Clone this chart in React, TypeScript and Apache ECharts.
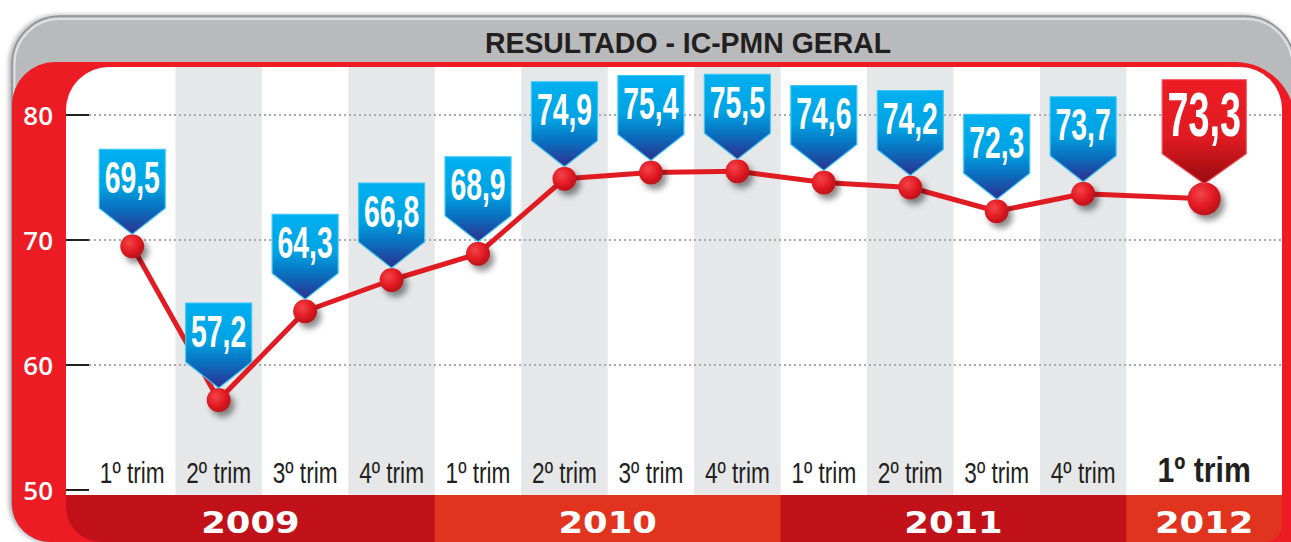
import React, { useEffect, useRef } from 'react';
import * as echarts from 'echarts';

// ---- data ----
const title = 'RESULTADO - IC-PMN GERAL';
const categories = ['1º trim', '2º trim', '3º trim', '4º trim', '1º trim', '2º trim', '3º trim', '4º trim', '1º trim', '2º trim', '3º trim', '4º trim', '1º trim'];
const values = [69.5, 57.2, 64.3, 66.8, 68.9, 74.9, 75.4, 75.5, 74.6, 74.2, 72.3, 73.7, 73.3];
const columnWidths = [1, 1, 1, 1, 1, 1, 1, 1, 1, 1, 1, 1, 1.8];
const years = ['2009', '2010', '2011', '2012'];
const yearFirstIndex = [0, 4, 8, 12];
const yearLastIndex = [3, 7, 11, 12];

// ---- layout ----
const W = 1291;
const H = 542;
const PLOT_TOP = 67;
const BAND_TOP = 495;
const WHITE_LEFT = 66;
const WHITE_RIGHT = 1282;

const colStart: number[] = [];
{
  let s = -0.5;
  for (let i = 0; i < columnWidths.length; i++) {
    colStart.push(s);
    s += columnWidths[i];
  }
  colStart.push(s);
}
const xCenters = columnWidths.map((w, i) => colStart[i] + w / 2);
const lastIdx = values.length - 1;
const fmt = (v: number) => v.toFixed(1).replace('.', ',');

const FONT = '"Liberation Sans", Arial, sans-serif';

export default function App() {
  const ref = useRef<HTMLDivElement>(null);
  useEffect(() => {
    document.body.style.margin = '0';
    const chart = echarts.init(ref.current!, undefined, { renderer: 'svg' });

    const redPoint = new echarts.graphic.RadialGradient(0.38, 0.35, 0.7, [
      { offset: 0, color: '#f3454a' },
      { offset: 0.55, color: '#e31b23' },
      { offset: 1, color: '#b4121a' },
    ]);

    const option: any = {
      animation: false,
      backgroundColor: '#ffffff',
      grid: { left: 89, right: W - WHITE_RIGHT, top: 115, bottom: H - 490, containLabel: false },
      xAxis: { type: 'value', min: colStart[0], max: colStart[colStart.length - 1], show: false },
      yAxis: {
        type: 'value',
        min: 50,
        max: 80,
        interval: 10,
        position: 'left',
        axisLine: { show: false, onZero: false },
        axisTick: { show: true, inside: false, length: 23, lineStyle: { color: '#231f20', width: 2 } },
        axisLabel: { color: '#ffffff', fontSize: 26, fontFamily: '"Open Sans", sans-serif', fontWeight: 600, margin: 36 },
        splitLine: { show: true, showMinLine: false, lineStyle: { color: '#a7a9ac', width: 2, type: [2, 3] } },
      },
      graphic: [
        {
          type: 'rect', z: -10,
          shape: { x: 12, y: 16, width: 1283, height: 526, r: [48, 50, 0, 40] },
          style: { fill: '#b9babc', stroke: '#8f9092', lineWidth: 1.5, shadowBlur: 5, shadowColor: 'rgba(0,0,0,0.35)', shadowOffsetX: -2 },
        },
        {
          type: 'rect', z: -9,
          shape: { x: 14.5, y: 19, width: 1278, height: 120, r: [45, 47, 0, 0] },
          style: { fill: 'none', stroke: 'rgba(255,255,255,0.55)', lineWidth: 2 },
        },
        {
          type: 'rect', z: -8,
          shape: { x: 12, y: 62, width: 1283, height: 480, r: [43, 60, 0, 38] },
          style: { fill: '#ed1c24' },
        },
        {
          type: 'rect', z: -7,
          shape: { x: WHITE_LEFT, y: PLOT_TOP, width: WHITE_RIGHT - WHITE_LEFT, height: BAND_TOP - PLOT_TOP, r: [43, 42, 0, 0] },
          style: { fill: '#ffffff' },
        },
        {
          type: 'text', z: -6, x: 688, y: 42.5, scaleX: 0.98,
          style: { text: title, fill: '#231f20', font: `bold 29px ${FONT}`, align: 'center', verticalAlign: 'middle', textAlign: 'center', textVerticalAlign: 'middle' },
        },
      ],
      series: [
        {
          name: 'columns',
          type: 'custom',
          z: -1,
          silent: true,
          data: xCenters.map((x) => [x, 50]),
          renderItem: (params: any, api: any) => {
            const i = params.dataIndex;
            const x0 = api.coord([colStart[i], 80])[0];
            const x1 = api.coord([colStart[i] + columnWidths[i], 80])[0];
            const yBase = api.coord([0, 50])[1];
            const isLast = i === lastIdx;
            const children: any[] = [];
            if (i % 2 === 1) {
              children.push({
                type: 'rect',
                shape: { x: x0, y: PLOT_TOP, width: x1 - x0, height: BAND_TOP - PLOT_TOP },
                style: { fill: '#e6e7e8' },
              });
            }
            children.push({
              type: 'text',
              x: (x0 + x1) / 2,
              y: yBase - (isLast ? 20 : 17.5),
              scaleX: isLast ? 0.84 : 0.78,
              style: {
                text: categories[i],
                fill: '#231f20',
                font: isLast ? `bold 36px ${FONT}` : `29px ${FONT}`,
                align: 'center', verticalAlign: 'middle', textAlign: 'center', textVerticalAlign: 'middle',
              },
            });
            return { type: 'group', children };
          },
        },
        {
          name: 'years',
          type: 'custom',
          z: -1,
          silent: true,
          data: years.map((_, k) => [xCenters[yearFirstIndex[k]], 50]),
          renderItem: (params: any, api: any) => {
            const k = params.dataIndex;
            const f = yearFirstIndex[k];
            const l = yearLastIndex[k];
            const x0 = k === 0 ? WHITE_LEFT : api.coord([colStart[f], 50])[0];
            const x1 = k === years.length - 1 ? WHITE_RIGHT : api.coord([colStart[l] + columnWidths[l], 50])[0];
            const r = k === 0 ? [0, 0, 0, 35] : k === years.length - 1 ? [0, 0, 18, 0] : 0;
            return {
              type: 'group',
              children: [
                {
                  type: 'rect',
                  shape: { x: x0, y: BAND_TOP, width: x1 - x0, height: H - BAND_TOP, r },
                  style: { fill: k % 2 === 0 ? '#c1121a' : '#e1341f' },
                },
                {
                  type: 'text',
                  x: (x0 + x1) / 2,
                  y: 522,
                  scaleX: 1.14,
                  style: {
                    text: years[k],
                    fill: '#ffffff',
                    font: 'bold 31px "DejaVu Sans", sans-serif',
                    align: 'center', verticalAlign: 'middle', textAlign: 'center', textVerticalAlign: 'middle',
                  },
                },
              ],
            };
          },
        },
        {
          name: 'IC-PMN',
          type: 'line',
          z: 3,
          clip: false,
          data: values.map((v, i) => [xCenters[i], v]),
          symbol: 'circle',
          symbolSize: (_v: any, p: any) => (p.dataIndex === lastIdx ? 33 : 24),
          lineStyle: { color: '#e01b22', width: 5 },
          itemStyle: {
            color: redPoint,
            shadowBlur: 6,
            shadowColor: 'rgba(0,0,0,0.45)',
            shadowOffsetX: 4,
            shadowOffsetY: 5,
          },
        },
        {
          name: 'labels',
          type: 'custom',
          z: 5,
          silent: true,
          data: values.map((v, i) => [xCenters[i], v]),
          renderItem: (params: any, api: any) => {
            const i = params.dataIndex;
            const [px, py] = api.coord([xCenters[i], values[i]]);
            const isLast = i === lastIdx;
            const w = isLast ? 84 : 66;
            const top = py - (isLast ? 119 : 97);
            const rb = py - (isLast ? 45 : 38);
            const tip = py - (isLast ? 15 : 12);
            const fill = isLast
              ? new echarts.graphic.LinearGradient(0, 0, 0, 1, [
                  { offset: 0, color: '#ed1c24' },
                  { offset: 0.55, color: '#e11b22' },
                  { offset: 1, color: '#980a0f' },
                ])
              : new echarts.graphic.LinearGradient(0, 0, 0, 1, [
                  { offset: 0, color: '#00b0f0' },
                  { offset: 0.45, color: '#00a2e2' },
                  { offset: 0.72, color: '#0b6cbd' },
                  { offset: 1, color: '#2e2f8f' },
                ]);
            return {
              type: 'group',
              children: [
                {
                  type: 'polygon',
                  shape: {
                    points: [
                      [px - w / 2, top],
                      [px + w / 2, top],
                      [px + w / 2, rb],
                      [px, tip],
                      [px - w / 2, rb],
                    ],
                  },
                  style: { fill, stroke: isLast ? '#f04a50' : '#3cc8f4', lineWidth: 1.2 },
                },
                {
                  type: 'text',
                  x: px,
                  y: top + (isLast ? 34 : 28),
                  scaleX: isLast ? 0.6 : 0.63,
                  style: {
                    text: fmt(values[i]),
                    fill: '#ffffff',
                    font: isLast ? `bold 63px ${FONT}` : `bold 45px ${FONT}`,
                    align: 'center', verticalAlign: 'middle', textAlign: 'center', textVerticalAlign: 'middle',
                  },
                },
              ],
            };
          },
        },
      ],
    };
    chart.setOption(option);
    return () => chart.dispose();
  }, []);
  return <div ref={ref} style={{ position: 'absolute', left: 0, top: 0, width: W, height: H }} />;
}
